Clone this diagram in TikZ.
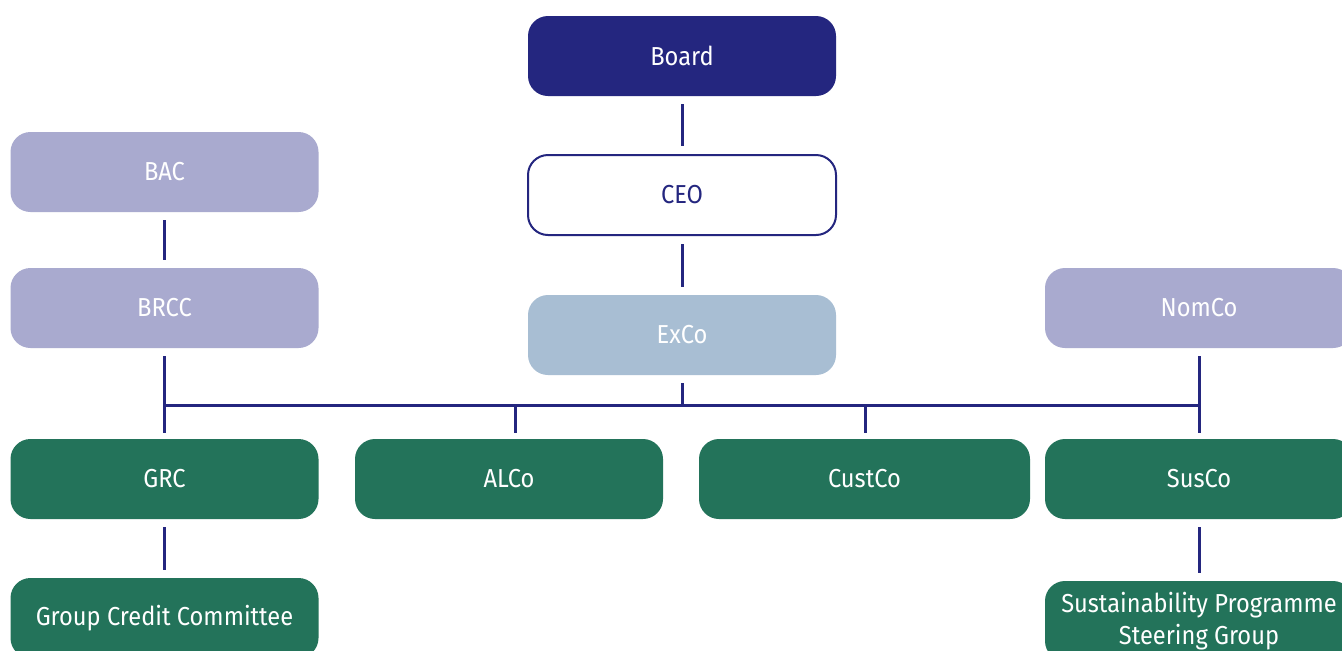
\documentclass[tikz,border=0pt]{standalone}
\usepackage{fontspec}
\setmainfont{Fira Sans}[FakeStretch=0.91]
\usetikzlibrary{positioning}
\definecolor{navy}{HTML}{24267F}
\definecolor{lilac}{HTML}{A9AACF}
\definecolor{steel}{HTML}{A8BED3}
\definecolor{pine}{HTML}{23735A}
\tikzset{
	unit/.style={rectangle, rounded corners=10pt, minimum width=154pt, minimum height=40pt, inner sep=2pt, font=\fontsize{13}{16}\selectfont, align=center},
	board/.style={unit, fill=navy, text=white},
	chief/.style={unit, fill=white, draw=navy, line width=1pt, text=navy},
	exec/.style={unit, fill=steel, text=white},
	nonexec/.style={unit, fill=lilac, text=white},
	cttee/.style={unit, fill=pine, text=white},
	link/.style={draw=navy, line width=1.5pt, shorten <=4pt, shorten >=4pt}
}
\begin{document}
\begin{tikzpicture}[x=0.5pt, y=-0.5pt]
		\clip (0,0) rectangle (1342,650);
		\fill[white] (0,0) rectangle (1342,650);
		\begin{scope}
			\node[board] (brd) at (682,56) {Board};
			\node[chief] (ceo) at (682,195) {CEO};
			\node[exec] (exco) at (682,335) {ExCo};
			\node[nonexec] (bac) at (164.5,172) {BAC};
			\node[nonexec] (brcc) at (164.5,308) {BRCC};
			\node[nonexec] (nomco) at (1199,308) {NomCo};
			\node[cttee] (grc) at (164.5,479) {GRC};
			\node[cttee] (alco) at (509,479) {ALCo};
			\node[cttee, minimum width=165.5pt] (custco) at (864.5,479) {CustCo};
			\node[cttee] (susco) at (1199,479) {SusCo};
			\node[cttee] (gcc) at (164.5,618) {Group Credit Committee};
			\node[cttee] (spsg) at (1199,621) {Sustainability Programme\\Steering Group};
		\end{scope}
		% bus
		\coordinate (busL) at (165,405);
		\coordinate (busR) at (1198,405);
		\coordinate (alcoTick) at (515,405);
		\coordinate (custTick) at (865,405);
		\begin{scope}[every path/.style={link}]
			\path (brd) -- (ceo);
			\path (ceo) -- (exco);
			\path[shorten >=0pt] (exco) -- (exco |- busL);
			\path (bac) -- (brcc);
			\path[shorten >=3pt] (brcc) -- (grc);
			\path[shorten >=3pt] (nomco) -- (susco);
			\path[shorten <=0pt, shorten >=0pt] (busL) -- (busR);
			\path[shorten <=0pt, shorten >=3pt] (alcoTick) -- (alcoTick |- alco.north);
			\path[shorten <=0pt, shorten >=3pt] (custTick) -- (custTick |- custco.north);
			\path (grc) -- (gcc);
			\path (susco) -- (spsg);
		\end{scope}
	\end{tikzpicture}
\end{document}
